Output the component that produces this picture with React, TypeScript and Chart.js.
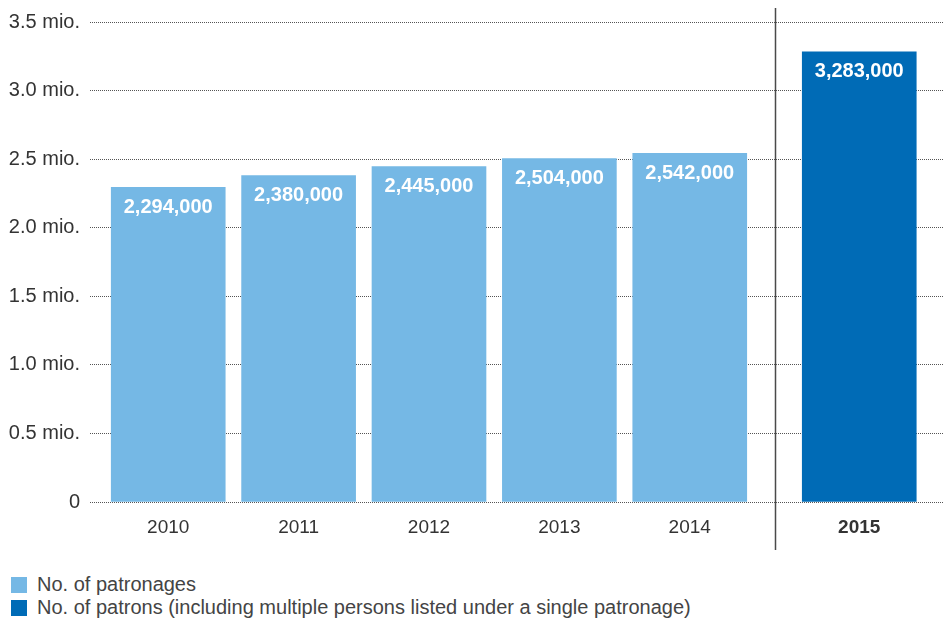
import React, { useEffect, useRef } from "react";
import { Chart, registerables } from "chart.js";

Chart.register(...registerables);

const patronageYears = ["2010", "2011", "2012", "2013", "2014"];
const patronageValues = [2294000, 2380000, 2445000, 2504000, 2542000];
const patronYears = ["2015"];
const patronValues = [3283000];
const yTickLabels = ["0", "0.5 mio.", "1.0 mio.", "1.5 mio.", "2.0 mio.", "2.5 mio.", "3.0 mio.", "3.5 mio."];
const legendLabels = [
  "No. of patronages",
  "No. of patrons (including multiple persons listed under a single patronage)",
];

const LIGHT = "#75b8e5";
const DARK = "#006bb6";
const GAP = 0.3;
const FONT = "'Liberation Sans', Arial, sans-serif";

export default function App() {
  const ref = useRef<HTMLCanvasElement | null>(null);

  useEffect(() => {
    if (!ref.current) return;
    const allYears = [...patronageYears, ...patronYears];
    const xPos = allYears.map((_, i) => (i >= patronageYears.length ? i + GAP : i));
    const sepX = (xPos[patronageYears.length - 1] + xPos[patronageYears.length]) / 2;

    const labelPlugin = {
      id: "valueLabels",
      afterDatasetsDraw(chart: any) {
        const ctx = chart.ctx;
        ctx.save();
        ctx.fillStyle = "#ffffff";
        ctx.font = `bold 20px ${FONT}`;
        ctx.textAlign = "center";
        ctx.textBaseline = "middle";
        chart.data.datasets.forEach((ds: any, di: number) => {
          const meta = chart.getDatasetMeta(di);
          meta.data.forEach((el: any, i: number) => {
            const v = ds.data[i].y as number;
            ctx.fillText(v.toLocaleString("en-US"), el.x, el.y + 20);
          });
        });
        ctx.restore();
      },
    };

    const sepPlugin = {
      id: "separator",
      afterDraw(chart: any) {
        const ctx = chart.ctx;
        const x = Math.round(chart.scales.x.getPixelForValue(sepX)) + 0.5;
        ctx.save();
        ctx.strokeStyle = "#4a4a4a";
        ctx.lineWidth = 1.5;
        ctx.beginPath();
        ctx.moveTo(x, 0);
        ctx.lineTo(x, 542);
        ctx.stroke();
        ctx.restore();
      },
    };

    const chart = new Chart(ref.current, {
      type: "bar",
      data: {
        datasets: [
          {
            label: legendLabels[0],
            data: patronageValues.map((v, i) => ({ x: xPos[i], y: v })),
            backgroundColor: LIGHT,
            grouped: false,
            barThickness: 114,
          } as any,
          {
            label: legendLabels[1],
            data: patronValues.map((v, i) => ({ x: xPos[patronageYears.length + i], y: v })),
            backgroundColor: DARK,
            grouped: false,
            barThickness: 114,
          } as any,
        ],
      },
      options: {
        animation: false,
        responsive: false,
        layout: { padding: { top: 14, right: 0, left: 0, bottom: 0 } },
        plugins: { legend: { display: false }, tooltip: { enabled: false } },
        scales: {
          x: {
            type: "linear",
            min: -0.6,
            max: 5.95,
            offset: false,
            grid: { display: false },
            border: { display: false },
            afterBuildTicks(scale: any) {
              scale.ticks = xPos.map((v) => ({ value: v }));
            },
            afterFit(scale: any) {
              scale.height = 66;
              scale.paddingLeft = 0;
              scale.paddingRight = 0;
            },
            ticks: {
              padding: 6,
              color: "#333333",
              font: (ctx: any) => ({
                family: FONT,
                size: 19,
                weight: ctx.index === allYears.length - 1 ? "bold" : "normal",
              }),
              callback: (_v: any, i: number) => allYears[i],
            },
          },
          y: {
            min: 0,
            max: 3500000,
            grid: { color: "#555555", lineWidth: 1, drawTicks: false },
            border: { display: false, dash: [1, 1] },
            afterFit(scale: any) {
              scale.width = 82;
              scale.paddingTop = 0;
              scale.paddingBottom = 0;
            },
            ticks: {
              stepSize: 500000,
              padding: 10,
              color: "#333333",
              font: { family: FONT, size: 20 },
              callback: (_v: any, i: number) => yTickLabels[i],
            },
          },
        },
      },
      plugins: [labelPlugin, sepPlugin],
    });
    return () => chart.destroy();
  }, []);

  return (
    <div style={{ position: "relative", width: 936, height: 612, fontFamily: FONT }}>
      <canvas ref={ref} width={936} height={560} style={{ display: "block" }} />
      <div style={{ position: "absolute", left: 3, top: 565 }}>
        {legendLabels.map((l, i) => (
          <div key={i} style={{ display: "flex", alignItems: "center", height: 23 }}>
            <span
              style={{
                display: "inline-block",
                width: 16,
                height: 16,
                background: i === 0 ? LIGHT : DARK,
                marginRight: 10,
              }}
            />
            <span style={{ fontSize: 20, lineHeight: "23px", color: "#444444" }}>{l}</span>
          </div>
        ))}
      </div>
    </div>
  );
}
